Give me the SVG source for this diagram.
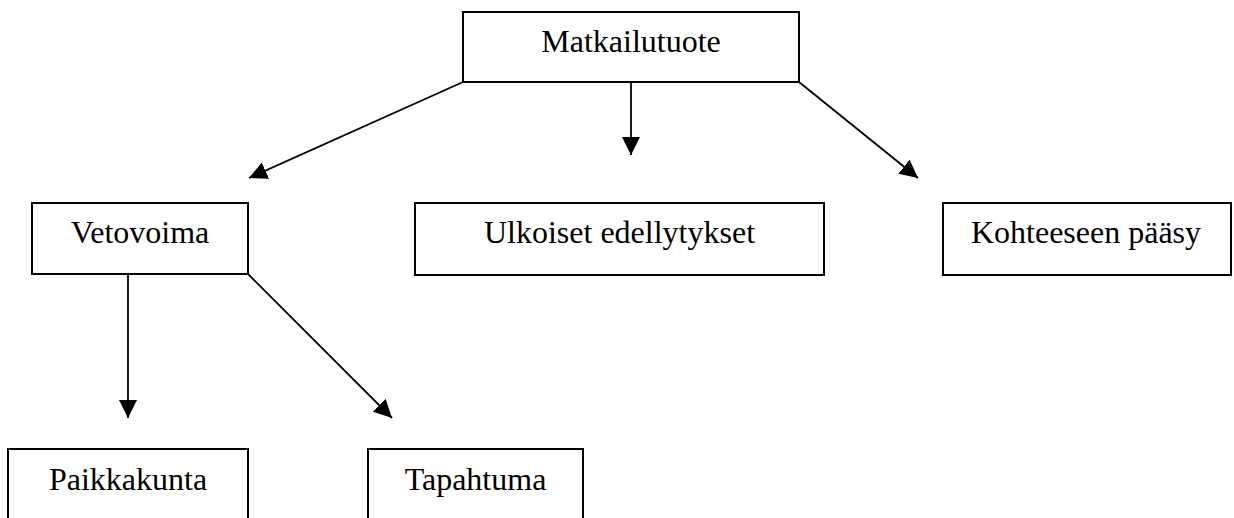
<svg xmlns="http://www.w3.org/2000/svg" width="1234" height="518" viewBox="0 0 1234 518">
<style>
.box{fill:#fff;stroke:#000;stroke-width:2}
.lbl{font-family:"Liberation Serif","Times New Roman",serif;font-size:32px;fill:#000;text-anchor:middle}
.edge{stroke:#000;stroke-width:1.8;fill:none;marker-end:url(#arr)}
</style>
<defs>
<marker id="arr" markerUnits="userSpaceOnUse" markerWidth="18" markerHeight="18" viewBox="0 0 16 16" refX="16" refY="8" orient="auto">
<path d="M0,0 L16,8 L0,16 Z" fill="#000"/>
</marker>
</defs>
<rect width="1234" height="518" fill="#fff"/>
<g id="connectors">
<line class="edge" x1="463" y1="82" x2="249" y2="178"/>
<line class="edge" x1="631" y1="82" x2="631" y2="155"/>
<line class="edge" x1="799" y1="82" x2="918" y2="178"/>
<line class="edge" x1="128" y1="274" x2="128" y2="418"/>
<line class="edge" x1="248" y1="274" x2="392" y2="418"/>
</g>
<g id="matkailutuote">
<rect class="box" x="463" y="12" width="336" height="70"/>
<text class="lbl" x="631" y="52">Matkailutuote</text>
</g>
<g id="vetovoima">
<rect class="box" x="32" y="203" width="216" height="71"/>
<text class="lbl" x="140" y="243">Vetovoima</text>
</g>
<g id="ulkoiset">
<rect class="box" x="415" y="203" width="409" height="72"/>
<text class="lbl" x="619.5" y="243">Ulkoiset edellytykset</text>
</g>
<g id="kohteeseen">
<rect class="box" x="943" y="203" width="288" height="72"/>
<text class="lbl" x="1086" y="243">Kohteeseen pääsy</text>
</g>
<g id="paikkakunta">
<rect class="box" x="8" y="449" width="240" height="80"/>
<text class="lbl" x="128" y="490">Paikkakunta</text>
</g>
<g id="tapahtuma">
<rect class="box" x="368" y="449" width="215" height="80"/>
<text class="lbl" x="475.5" y="490">Tapahtuma</text>
</g>
</svg>
